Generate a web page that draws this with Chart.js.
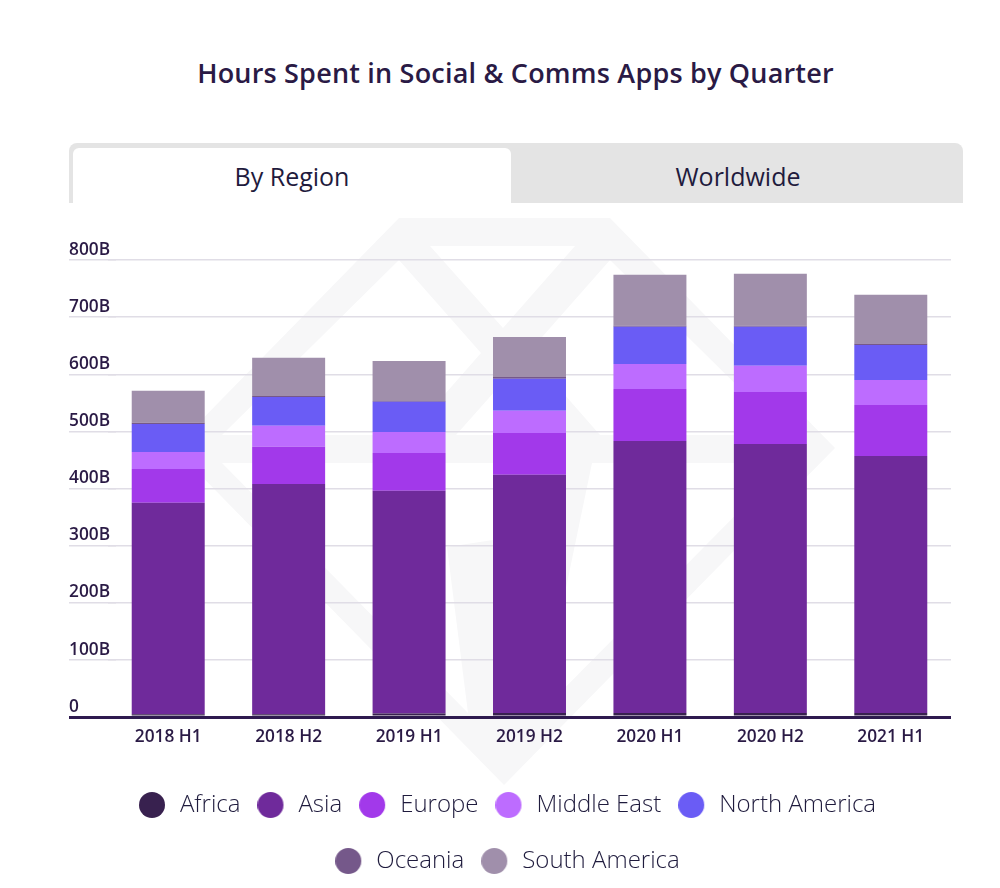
<!DOCTYPE html>
<html><head><meta charset="utf-8">
<script src="https://cdn.jsdelivr.net/npm/chart.js@4"></script>
<style>
html,body{margin:0;padding:0;background:#fff;overflow:hidden;width:1000px;height:888px}
#wrap{position:relative;width:1000px;height:888px;overflow:hidden;font-family:"Open Sans",sans-serif}
#title{position:absolute;left:0;width:1031px;top:55px;text-align:center;font-size:27px;font-weight:600;color:#2a1a45;letter-spacing:.2px;line-height:36px}
#tabs{position:absolute;left:69px;top:143px;width:894px;height:60px;background:#e4e4e4;border-radius:8px 8px 0 0}
.tab{position:absolute;top:5px;height:55px;line-height:56px;text-align:center;font-size:25px;color:#1f1b3d}
#t1{left:4px;width:438px;background:#fff;border-radius:6px 6px 0 0}
#t2{left:443px;width:452px}
#wm{position:absolute;left:0;top:0}
canvas{position:absolute;left:0;top:0}
</style></head><body>
<div id="wrap">
<svg id="wm" width="1000" height="888">
<path fill="#f7f7f8" fill-rule="evenodd" d="M399 218H610L835 448L504 785L174 448Z
M430 246H575L503 328Z
M399 260L481 353L409 435H222Z
M610 260L528 353L600 435H787Z
M504 381L552 435H456Z
M222 463H505L493 540L447 547L468 713Z
M787 463H592L540 713Z"/>
</svg>
<div id="title">Hours Spent in Social &amp; Comms Apps by Quarter</div>
<div id="tabs"><div class="tab" id="t1">By Region</div><div class="tab" id="t2">Worldwide</div></div>
<canvas id="c" width="1000" height="920" style="width:1000px;height:920px"></canvas>
</div>
<script>
const categories = ["2018 H1","2018 H2","2019 H1","2019 H2","2020 H1","2020 H2","2021 H1"];
const africa = [5,5,6,7,7,7,7];
const asia = [370,403,390,417,476,471,450];
const europe = [59,65,66,73,91,91,89];
const middleEast = [30,37,37,39,44,46,44];
const northAmerica = [49,50,53,56,65,68,61];
const oceania = [2,2,1,3,2,2,3];
const southAmerica = [56,67,70,70,89,91,85];
const seriesNames = ["Africa","Asia","Europe","Middle East","North America","Oceania","South America"];
const seriesValues = [africa,asia,europe,middleEast,northAmerica,oceania,southAmerica];
const seriesColors = ["#38214f","#6f2a9b","#a239ea","#bd6cff","#6a5cf5","#75588a","#a08fab"];
const tickStep = 100, axisMax = 800;

function marker(color){
  const m=document.createElement('canvas');m.width=44;m.height=26;
  const g=m.getContext('2d');g.fillStyle=color;g.beginPath();g.arc(13,13,13,0,Math.PI*2);g.fill();
  return m;
}
const layoutNudge = {id:'layoutNudge',afterLayout(ch){ch.legend.left+=5;ch.legend.right+=5;ch.scales.y.right+=8;}};
new Chart(document.getElementById('c'),{
  type:'bar',
  plugins:[layoutNudge],
  data:{labels:categories,datasets:seriesNames.map((n,i)=>({label:n,data:seriesValues[i],backgroundColor:seriesColors[i],stack:'s',categoryPercentage:1,barPercentage:0.606}))},
  options:{
    responsive:false,animation:false,
    layout:{padding:{left:69,right:49,top:260,bottom:37}},
    plugins:{
      tooltip:{enabled:false},
      legend:{position:'bottom',align:'center',
        labels:{usePointStyle:true,pointStyleWidth:14,padding:32,color:'#1f1b3d',
          font:{family:'"Open Sans"',size:24,weight:'300'},
          generateLabels:ch=>ch.data.datasets.map((d,i)=>({text:d.label,pointStyle:marker(seriesColors[i]),fillStyle:seriesColors[i],strokeStyle:'transparent',lineWidth:0,datasetIndex:i,fontColor:'#1f1b3d'}))
        }}
    },
    scales:{
      x:{stacked:true,
        afterFit:s=>{s.height=44;},
        grid:{display:false,drawTicks:false},
        border:{display:false},
        ticks:{color:'#2a1a45',font:{family:'"Open Sans"',size:17.3,weight:'600'},padding:10,maxRotation:0}},
      y:{stacked:true,min:0,max:axisMax,
        afterFit:s=>{s.width=39;},
        border:{display:false},
        grid:{
          color:c=>c.tick.value===0?'#2e1a4f':'#e0dde6',
          tickColor:c=>c.tick.value===0?'#2e1a4f':'#e0dde6',
          lineWidth:c=>c.tick.value===0?3:1.5,
          tickWidth:c=>c.tick.value===0?3:1.5,
          tickLength:47,z:0},
        ticks:{stepSize:tickStep,crossAlign:'far',padding:0,color:'#2a1a45',
          font:{family:'"Open Sans"',size:17.3,weight:'600',lineHeight:1.18},
          callback:v=>[v===0?'0':v+'B','']}
      }
    }
  }
});
</script>
</body></html>
